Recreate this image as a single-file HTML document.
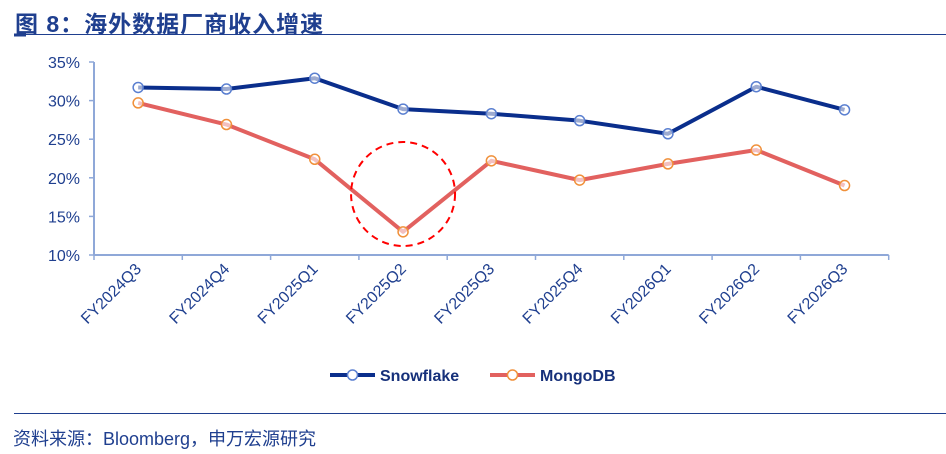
<!DOCTYPE html>
<html><head><meta charset="utf-8"><style>
body{margin:0;width:946px;height:454px;background:#fff;overflow:hidden;font-family:"Liberation Sans","Noto Sans CJK SC",sans-serif;position:relative}
#title{position:absolute;left:15px;top:5px;font-size:23px;font-weight:bold;color:#1f3f8f;letter-spacing:1px}
#src{position:absolute;left:13px;top:425px;font-size:18px;color:#1f3f8f}
</style></head><body>
<div id="title">图 8：海外数据厂商收入增速</div>
<svg width="946" height="454" style="position:absolute;left:0;top:0">
<line x1="14" y1="34.5" x2="946" y2="34.5" stroke="#1f3f8f" stroke-width="1"/>
<line x1="14" y1="35" x2="26" y2="35" stroke="#1f3f8f" stroke-width="3"/>
<line x1="14" y1="413.5" x2="946" y2="413.5" stroke="#1f3f8f" stroke-width="1"/>
<g id="axes"></g><g id="marks"></g><g id="legend"></g>
</svg>
<div id="src">资料来源：Bloomberg，申万宏源研究</div>
<script>
const categories=["FY2024Q3","FY2024Q4","FY2025Q1","FY2025Q2","FY2025Q3","FY2025Q4","FY2026Q1","FY2026Q2","FY2026Q3"];
const snowflake=[31.7,31.5,32.9,28.9,28.3,27.4,25.7,31.8,28.8];
const mongodb=[29.7,26.9,22.4,13.0,22.2,19.7,21.8,23.6,19.0];
const yTicks=[10,15,20,25,30,35];
const NS="http://www.w3.org/2000/svg";
const x0=94,cw=88.3,yTop=62,yBot=255,yMin=10,yMax=35;
const xs=i=>x0+cw*(i+0.5);
const ys=v=>yBot-(v-yMin)/(yMax-yMin)*(yBot-yTop);
function mk(t,a,p){const e=document.createElementNS(NS,t);for(const k in a)e.setAttribute(k,a[k]);p.appendChild(e);return e;}
const ax=document.getElementById('axes'),mg=document.getElementById('marks'),lg=document.getElementById('legend');
const ya=mk('line',{x1:x0,y1:yTop,x2:x0,y2:yBot,stroke:'#8fa8d8','stroke-width':2},ax);


const xa=mk('line',{x1:x0,y1:yBot,x2:x0+cw*categories.length,y2:yBot,stroke:'#8fa8d8','stroke-width':2},ax);


yTicks.forEach(v=>{
 mk('line',{x1:x0-5,y1:ys(v),x2:x0,y2:ys(v),stroke:'#8fa8d8','stroke-width':1.5},ax);
 const t=mk('text',{x:x0-14,y:ys(v)+6,'text-anchor':'end','font-size':16,fill:'#1f3f8f'},ax);
 t.textContent=v+'%';
 
 
});
for(let i=0;i<=categories.length;i++)mk('line',{x1:x0+cw*i,y1:yBot,x2:x0+cw*i,y2:yBot+5,stroke:'#8fa8d8','stroke-width':1.5},ax);
categories.forEach((c,i)=>{
 const cx=xs(i)+4,cy=yBot+15;
 const t=mk('text',{x:cx,y:cy,'text-anchor':'end','font-size':16,fill:'#1f3f8f',transform:`rotate(-45 ${cx} ${cy})`},ax);
 t.textContent=c;
 
 
});
function series(vals,col,mcol,name){
 const pl=mk('polyline',{points:vals.map((v,i)=>xs(i)+','+ys(v)).join(' '),fill:'none',stroke:col,'stroke-width':4,'stroke-linejoin':'round'},mg);
 
 
 vals.forEach((v,i)=>{
  const c=mk('circle',{cx:xs(i),cy:ys(v),r:5,fill:'#fff','fill-opacity':0.6,stroke:mcol,'stroke-width':1.5},mg);
  
  
 });
}
series(mongodb,'#e2615f','#f0903a','mongodb');
series(snowflake,'#0a2e8c','#5a7fd0','snowflake');
const hl=mk('circle',{cx:xs(3),cy:194,r:52,fill:'none',stroke:'#f00','stroke-width':2,'stroke-dasharray':'7,5'},mg);


[['Snowflake','#0a2e8c','#5a7fd0',330],['MongoDB','#e2615f','#f0903a',490]].forEach(([n,c,m,x])=>{
 const g=mk('g',{},lg);
 
 
 mk('line',{x1:x,y1:375,x2:x+45,y2:375,stroke:c,'stroke-width':4},g);
 mk('circle',{cx:x+22.5,cy:375,r:5,fill:'#fff',stroke:m,'stroke-width':1.5},g);
 const t=mk('text',{x:x+50,y:381,'font-size':16,'font-weight':'bold',fill:'#16307a'},g);t.textContent=n;
});
</script>
</body></html>
